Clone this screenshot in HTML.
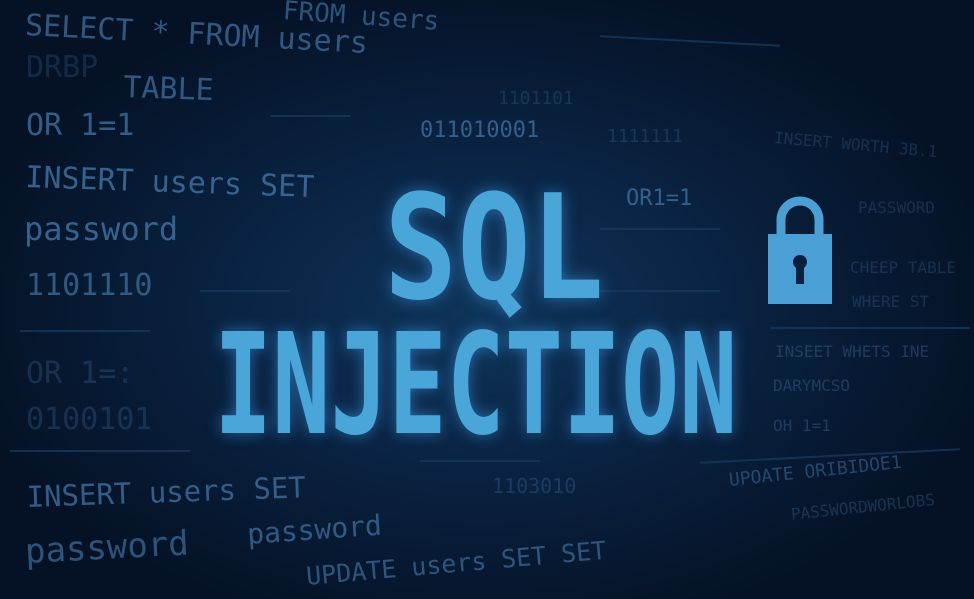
<!DOCTYPE html>
<html><head><style>
body{margin:0;width:974px;height:599px;overflow:hidden;background:#07142a;}
#bg{position:absolute;inset:0;background:radial-gradient(ellipse 520px 330px at 480px 310px,#0f3559 0%,#0a2444 45%,#071a33 75%,#051226 100%);}
.t{position:absolute;font-family:"DejaVu Sans Mono","Liberation Mono",monospace;color:#3f6f9f;white-space:nowrap;transform-origin:0 0;}
.l{position:absolute;height:2px;background:#17385c;opacity:.8}
.big{position:absolute;font-family:"DejaVu Sans Mono",monospace;font-weight:bold;color:#4aa6d8;text-shadow:0 0 18px rgba(60,150,230,.6);transform-origin:0 0;line-height:1;white-space:nowrap}
</style></head><body>
<div id="bg"></div>
<div class="t" style="left:26px;top:8px;font-size:30px;transform:rotate(3deg);opacity:.75">SELECT * FROM users</div>
<div class="t" style="left:284px;top:-4px;font-size:26px;transform:rotate(4deg);opacity:.7">FROM users</div>
<div class="t" style="left:26px;top:50px;font-size:30px;opacity:.25">DRBP</div>
<div class="t" style="left:124px;top:70px;font-size:30px;transform:rotate(2deg);opacity:.75">TABLE</div>
<div class="t" style="left:26px;top:108px;font-size:30px;opacity:.8">OR 1=1</div>
<div class="t" style="left:26px;top:160px;font-size:30px;transform:rotate(2deg);opacity:.85">INSERT users SET</div>
<div class="t" style="left:24px;top:210px;font-size:32px;opacity:.85">password</div>
<div class="t" style="left:26px;top:268px;font-size:30px;opacity:.75">1101110</div>
<div class="t" style="left:26px;top:356px;font-size:30px;opacity:.3">OR 1=:</div>
<div class="t" style="left:26px;top:402px;font-size:30px;opacity:.3">0100101</div>
<div class="t" style="left:26px;top:480px;font-size:29px;transform:rotate(-2deg);opacity:.8">INSERT users SET</div>
<div class="t" style="left:24px;top:532px;font-size:34px;transform:rotate(-3deg);opacity:.7">password</div>
<div class="t" style="left:246px;top:518px;font-size:28px;transform:rotate(-4deg);opacity:.75">password</div>
<div class="t" style="left:305px;top:562px;font-size:25px;transform:rotate(-5deg);opacity:.7">UPDATE users SET  SET</div>
<div class="t" style="left:420px;top:118px;font-size:22px;opacity:.8">011010001</div>
<div class="t" style="left:498px;top:88px;font-size:18px;opacity:.3">1101101</div>
<div class="t" style="left:607px;top:126px;font-size:18px;opacity:.3">1111111</div>
<div class="t" style="left:626px;top:186px;font-size:22px;opacity:.8">OR1=1</div>
<div class="t" style="left:492px;top:474px;font-size:20px;opacity:.35">1103010</div>
<div class="t" style="left:775px;top:128px;font-size:16px;opacity:.3;transform:rotate(5deg)">INSERT WORTH 3B.1</div>
<div class="t" style="left:858px;top:198px;font-size:16px;opacity:.3">PASSWORD</div>
<div class="t" style="left:850px;top:258px;font-size:16px;opacity:.3">CHEEP TABLE</div>
<div class="t" style="left:852px;top:292px;font-size:16px;opacity:.3">WHERE ST</div>
<div class="t" style="left:775px;top:342px;font-size:16px;opacity:.4">INSEET WHETS INE</div>
<div class="t" style="left:773px;top:376px;font-size:16px;opacity:.4">DARYMCSO</div>
<div class="t" style="left:773px;top:416px;font-size:16px;opacity:.4">OH 1=1</div>
<div class="t" style="left:728px;top:470px;font-size:18px;opacity:.55;transform:rotate(-6deg)">UPOATE ORIBIDOE1</div>
<div class="t" style="left:790px;top:505px;font-size:16px;opacity:.35;transform:rotate(-6deg)">PASSWORDWORLOBS</div>
<div class="l" style="left:270px;top:115px;width:80px"></div>
<div class="l" style="left:600px;top:228px;width:120px"></div>
<div class="l" style="left:560px;top:290px;width:160px"></div>
<div class="l" style="left:770px;top:327px;width:200px"></div>
<div class="l" style="left:200px;top:290px;width:90px"></div>
<div class="l" style="left:20px;top:330px;width:130px"></div>
<div class="l" style="left:700px;top:455px;width:260px;transform:rotate(-3deg)"></div>
<div class="l" style="left:10px;top:450px;width:180px"></div>
<div class="l" style="left:420px;top:460px;width:120px"></div>
<div class="l" style="left:600px;top:40px;width:180px;transform:rotate(3deg)"></div>
<div class="big" style="left:384px;top:176px;font-size:145px;transform:scaleX(.84)">SQL</div>
<div class="big" style="left:214px;top:316px;font-size:140px;transform:scaleX(.69)">INJECTION</div>
<svg style="position:absolute;left:760px;top:190px" width="80" height="120">
<path d="M21 48 V30 a19 19 0 0 1 38 0 V48" fill="none" stroke="#4a9fd4" stroke-width="9"/>
<rect x="8" y="44" width="64" height="70" fill="#4a9fd4"/>
<circle cx="40" cy="72" r="7" fill="#0a2040"/>
<rect x="36" y="72" width="8" height="22" fill="#0a2040"/>
</svg>
</body></html>
